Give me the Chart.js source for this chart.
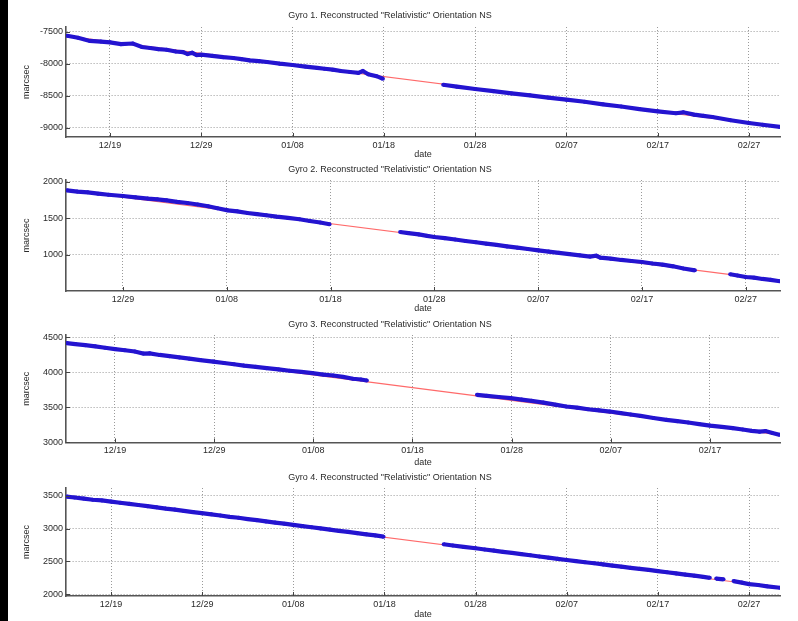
<!DOCTYPE html>
<html><head><meta charset="utf-8">
<script src="https://cdn.jsdelivr.net/npm/chart.js@4.4.0/dist/chart.umd.min.js"></script>
<style>
html,body{margin:0;padding:0;background:#fff;width:798px;height:621px;overflow:hidden;position:relative}
canvas{position:absolute;left:0}
#strip{position:absolute;left:0;top:0;width:8px;height:621px;background:#000;z-index:5}
</style></head><body>
<div id="strip"></div>
<canvas id="c1" width="798" height="162" style="top:0px"></canvas>
<canvas id="c2" width="798" height="156" style="top:160px"></canvas>
<canvas id="c3" width="798" height="154" style="top:316px"></canvas>
<canvas id="c4" width="798" height="152" style="top:470px"></canvas>
<script>
// ---- tick labels (days counted from 12/19) ----
const xTickDays = [0, 10, 20, 30, 40, 50, 60, 70];
const xTickLabels = ['12/19', '12/29', '01/08', '01/18', '01/28', '02/07', '02/17', '02/27'];

const titles = [
  'Gyro 1. Reconstructed "Relativistic" Orientation NS',
  'Gyro 2. Reconstructed "Relativistic" Orientation NS',
  'Gyro 3. Reconstructed "Relativistic" Orientation NS',
  'Gyro 4. Reconstructed "Relativistic" Orientation NS'
];

// ---- Gyro 1 ----
const g1Days = [-4.7,-3.5,-2.2,-1,0,1.2,2.5,3.5,4.4,5.3,6.2,7.2,8,8.5,9,9.5,10,11.2,12.4,13.5,14.4,15.3,16.3,17.2,18.6,20,21.4,22.7,23.5,24.4,25.3,26.3,27.2,27.7,28.3,29.2,29.9,
  33,
  36.5,38,40,42,44,46,48,50,52,54,56,58,60,62,62.8,64,65,66,68,70,71.5,73.4];
const g1Vals = [-7558,-7590,-7640,-7650,-7662,-7690,-7680,-7735,-7750,-7768,-7777,-7805,-7815,-7845,-7825,-7860,-7855,-7872,-7893,-7906,-7925,-7944,-7955,-7969,-7995,-8016,-8040,-8062,-8075,-8089,-8110,-8125,-8140,-8110,-8160,-8190,-8230,
  null,
  -8325,-8355,-8391,-8425,-8460,-8490,-8525,-8558,-8590,-8630,-8665,-8705,-8740,-8770,-8755,-8792,-8810,-8828,-8880,-8922,-8950,-8984];
const g1FitDays = [-4.8, 73.4];
const g1FitVals = [-7565, -8985];
const g1YTicks = [-9000, -8500, -8000, -7500];

// ---- Gyro 2 ----
const g2Days = [4.6,5.6,6.6,7.6,8.6,10,11.2,12.4,13.3,14.2,15.2,16.2,17.2,18.2,19.1,20.1,21,22,22.9,23.8,24.8,25.9,27,28,29,29.9,
  33,
  36.7,37.5,38.5,39.3,40,41,42,43,44,45,46,47,48,49,50,51,52,53,54,55,55.6,56,57,58,59,60,61,62,63,64,65.1,
  67,
  68.5,69.2,70,70.8,71.6,72.4,73.3];
const g2Vals = [1886,1868,1858,1840,1825,1808,1790,1772,1762,1749,1728,1712,1692,1668,1640,1612,1598,1575,1560,1544,1525,1508,1489,1466,1445,1421,
  null,
  1315,1300,1282,1262,1247,1230,1212,1192,1175,1155,1138,1118,1100,1082,1064,1047,1030,1012,995,978,990,964,950,932,918,904,884,868,845,815,790,
  null,
  736,720,699,690,672,660,640];
const g2FitDays = [4.5, 73.3];
const g2FitVals = [1890, 645];
const g2YTicks = [1000, 1500, 2000];

// ---- Gyro 3 ----
const g3Days = [-4.87,-4,-3,-2,-1,0,1,2,2.86,3.5,4.5,5.5,6.5,7.5,8.6,9.9,11,12,13,14.2,15.3,16.5,17.6,18.8,19.9,21,22,23,24,24.8,25.4,
  30,
  36.5,37.5,38.7,39.9,41,42,43.2,44.4,45.5,46.6,47.7,48.8,49.9,51,52,53,54.3,55.6,56.7,57.8,58.9,60,61.2,62.3,63.3,64.2,65,65.6,66.3,67.06];
const g3Vals = [4414,4400,4385,4368,4348,4329,4312,4295,4265,4268,4245,4228,4210,4192,4172,4151,4130,4112,4093,4075,4057,4038,4020,4003,3986,3965,3952,3932,3905,3895,3880,
  null,
  3676,3662,3645,3629,3608,3590,3565,3535,3509,3492,3470,3455,3437,3415,3395,3375,3345,3319,3300,3280,3258,3237,3218,3200,3180,3162,3150,3158,3130,3104];
const g3FitDays = [-4.9, 67.06];
const g3FitVals = [4414, 3104];
const g3YTicks = [3000, 3500, 4000, 4500];

// ---- Gyro 4 ----
const g4Days = [-4.86,-4,-3,-2,-1,0,1,2,3,4,5,6,7,8,9,9.95,11,12,13,14,15,16,17,18,19,20,21,22,23,24,25,26,27,28,29,29.9,
  33,
  36.5,37.5,38.7,40,41,42,43,44,45,46,47,48,49,50,51,52,53,54,55,56,57,58,59,60,61,62,63,64,65,65.7,
  66,
  66.4,67.2,
  67.8,
  68.3,69.2,70,71,72,73.4];
const g4Vals = [3489,3475,3458,3440,3430,3413,3395,3378,3360,3342,3325,3305,3290,3270,3252,3235,3218,3200,3180,3165,3145,3128,3110,3092,3075,3056,3038,3020,3002,2985,2966,2950,2930,2912,2895,2877,
  null,
  2760,2742,2720,2699,2680,2664,2645,2628,2610,2592,2574,2556,2538,2520,2503,2486,2470,2452,2435,2418,2400,2385,2368,2351,2333,2315,2297,2280,2262,2248,
  null,
  2236,2224,
  null,
  2198,2175,2152,2138,2118,2096];
const g4FitDays = [-4.9, 73.4];
const g4FitVals = [3489, 2096];
const g4YTicks = [2000, 2500, 3000, 3500];

// ---- panel layout (axis limits + placement) ----
const panels = [
  {id:'c1', days:g1Days, vals:g1Vals, fd:g1FitDays, fv:g1FitVals, yt:g1YTicks, xmin:-4.82, xmax:73.4, ymin:-9141, ymax:-7422, top:0,   h:162, at:27,  ab:137, tc:16},
  {id:'c2', days:g2Days, vals:g2Vals, fd:g2FitDays, fv:g2FitVals, yt:g2YTicks, xmin:4.51,  xmax:73.3, ymin:507,   ymax:2027,  top:160, h:156, at:180, ab:291, tc:170},
  {id:'c3', days:g3Days, vals:g3Vals, fd:g3FitDays, fv:g3FitVals, yt:g3YTicks, xmin:-4.94, xmax:67.06, ymin:2995, ymax:4530,  top:316, h:154, at:335, ab:442.5, tc:324.5},
  {id:'c4', days:g4Days, vals:g4Vals, fd:g4FitDays, fv:g4FitVals, yt:g4YTicks, xmin:-4.94, xmax:73.4, ymin:1970,  ymax:3620,  top:470, h:152, at:488, ab:596, tc:477.5}
];

const FONT = {family:'"Liberation Sans", Arial, sans-serif', size:9, weight:'normal', lineHeight:1.2};
const LH = 10.8;
const TXT = '#2a2a2a';

const innerTicks = {
  id:'innerTicks',
  afterDatasetsDraw(chart){
    const {ctx, chartArea:a, scales:{x, y}} = chart;
    ctx.save();
    ctx.strokeStyle = '#444'; ctx.lineWidth = 1;
    ctx.beginPath();
    x.ticks.forEach(t => { const px = Math.round(x.getPixelForValue(t.value)) + 0.5; ctx.moveTo(px, a.bottom); ctx.lineTo(px, a.bottom - 4); });
    y.ticks.forEach(t => { const py = Math.round(y.getPixelForValue(t.value)) + 0.5; ctx.moveTo(a.left, py); ctx.lineTo(a.left + 4, py); });
    ctx.stroke();
    ctx.restore();
  }
};

panels.forEach((p, i) => {
  const dataPts = p.days.map((d, k) => ({x:d, y:p.vals[k]}));
  const fitPts = p.fd.map((d, k) => ({x:d, y:p.fv[k]}));
  const titlePadTop = p.tc - p.top - LH/2;
  const titlePadBottom = p.at - p.tc - LH/2;
  const xAxisH = (p.top + p.h) - p.ab;
  const visDays = xTickDays.filter(d => d >= p.xmin && d <= p.xmax);
  new Chart(document.getElementById(p.id), {
    type:'line',
    data:{datasets:[
      {data:fitPts, borderColor:'#ff6a6a', borderWidth:1.2, pointRadius:0, tension:0, order:2},
      {data:dataPts, borderColor:'#2414d0', backgroundColor:'#2414d0', borderWidth:4.2, pointRadius:2, pointBorderWidth:0, tension:0, spanGaps:false, order:1}
    ]},
    options:{
      responsive:false, animation:false, events:[],
      layout:{padding:{left:0, right:18, top:0, bottom:0}},
      plugins:{
        legend:{display:false}, tooltip:{enabled:false},
        title:{display:true, text:titles[i], color:TXT, font:FONT, padding:{top:titlePadTop, bottom:titlePadBottom}}
      },
      scales:{
        x:{type:'linear', min:p.xmin, max:p.xmax,
          afterBuildTicks: s => { s.ticks = visDays.map(v => ({value:v})); },
          afterFit: s => { s.height = xAxisH; },
          ticks:{color:TXT, font:FONT, padding:3, maxRotation:0, autoSkip:false,
            callback: v => { const k = xTickDays.indexOf(v); return k >= 0 ? xTickLabels[k] : ''; }},
          grid:{color:'#9a9a9a', lineWidth:1, drawTicks:false},
          border:{display:true, color:'#555', width:1.6, dash:[1,2]},
          title:{display:true, text:'date', color:TXT, font:FONT, padding:{top:0, bottom:1.6}}
        },
        y:{type:'linear', min:p.ymin, max:p.ymax,
          afterBuildTicks: s => { s.ticks = p.yt.map(v => ({value:v})); },
          afterFit: s => { s.width = 66; },
          ticks:{color:TXT, font:FONT, padding:3, callback: v => String(v)},
          grid:{color:'#9a9a9a', lineWidth:1, drawTicks:false},
          border:{display:true, color:'#555', width:1.6, dash:[1,2]},
          title:{display:true, text:'marcsec', color:TXT, font:FONT, padding:{top:21.6, bottom:0}}
        }
      }
    },
    plugins:[innerTicks]
  });
});
</script>
</body></html>
